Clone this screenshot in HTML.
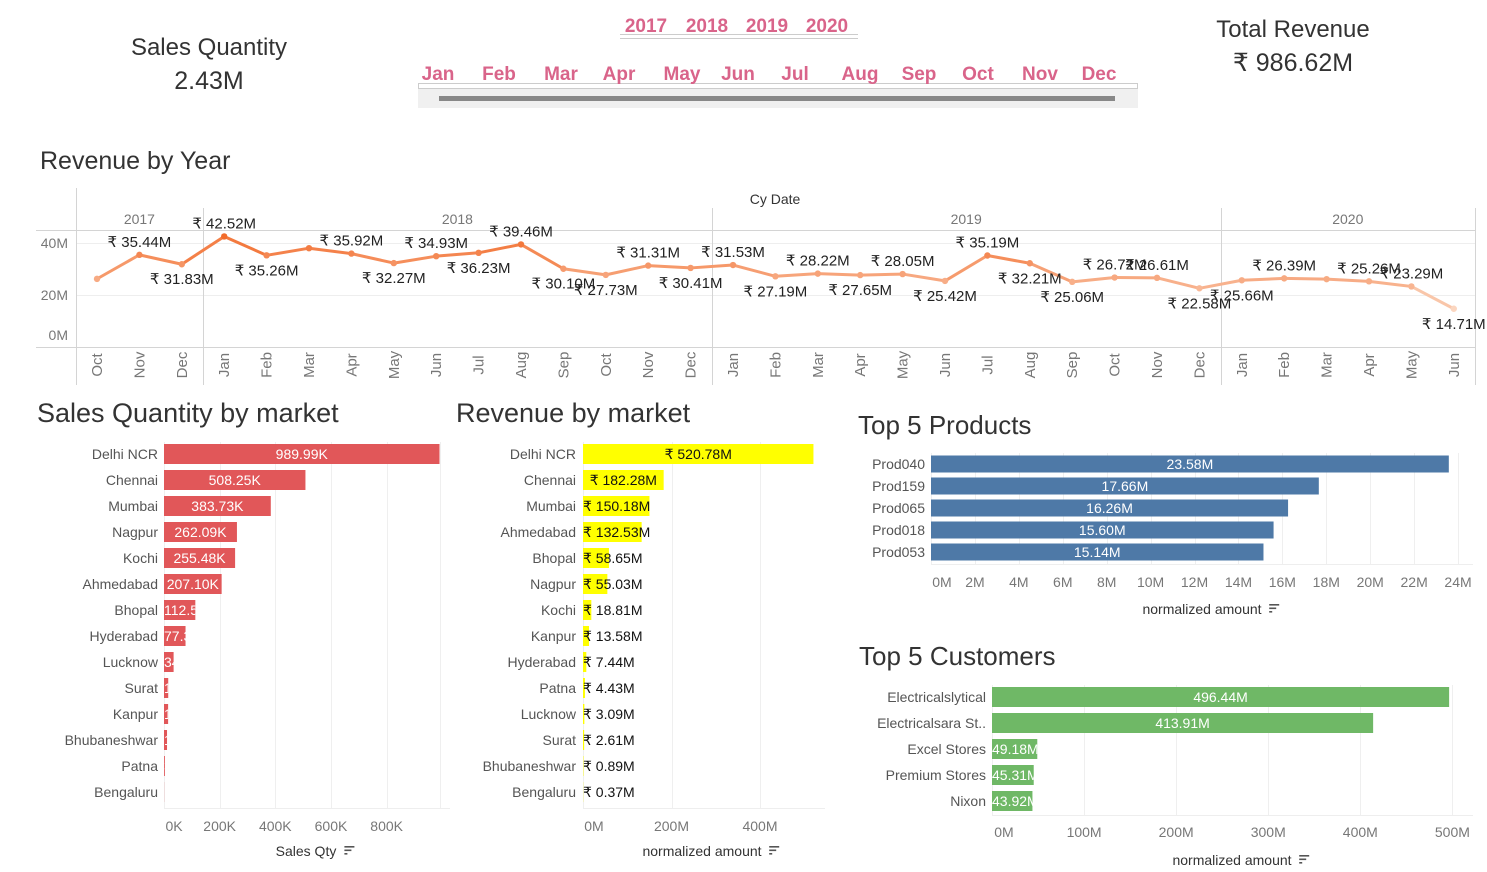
<!DOCTYPE html>
<html><head><meta charset="utf-8"><title>Sales Dashboard</title>
<style>
html,body{margin:0;padding:0;background:#fff;width:1487px;height:872px;overflow:hidden}
svg{display:block;font-family:"Liberation Sans",sans-serif}
.ttl{fill:#333;font-size:26px}
.tick{fill:#777;font-size:14px}
.cat{fill:#555;font-size:14px}
.pink{fill:#d9648a;font-size:19px;font-weight:bold}
</style></head>
<body>
<svg id="dash" width="1487" height="872" viewBox="0 0 1487 872" xmlns="http://www.w3.org/2000/svg">
  <g>
    <text x="209" y="55" text-anchor="middle" fill="#333" font-size="24">Sales Quantity</text>
    <text x="209" y="89" text-anchor="middle" fill="#333" font-size="25">2.43M</text>
  </g>
  <g>
    <text x="1293" y="37" text-anchor="middle" fill="#333" font-size="24">Total Revenue</text>
    <text x="1293" y="71" text-anchor="middle" fill="#333" font-size="25">₹ 986.62M</text>
  </g>
  <g>
    <text class="pink" x="646" y="32" text-anchor="middle">2017</text>
    <text class="pink" x="707" y="32" text-anchor="middle">2018</text>
    <text class="pink" x="767" y="32" text-anchor="middle">2019</text>
    <text class="pink" x="827" y="32" text-anchor="middle">2020</text>
    <line x1="620" y1="34.5" x2="858" y2="34.5" stroke="#ccc"/>
    <line x1="620" y1="38.5" x2="858" y2="38.5" stroke="#ccc"/>
  </g>
  <g id="monthfilter">
    <rect x="418.5" y="83.5" width="719" height="5" fill="#fff" stroke="#ccc"/>
    <rect x="418" y="89" width="720" height="19" fill="#f0f0f0"/>
    <rect x="439" y="96" width="676" height="5" fill="#888"/>
  </g>
  <text class="ttl" x="40" y="169" font-size="25" style="font-size:25px">Revenue by Year</text>
  <g id="linechart"></g>
  <text class="ttl" x="37" y="422" style="font-size:27px">Sales Quantity by market</text>
  <g id="qtychart"></g>
  <text class="ttl" x="456" y="422" style="font-size:27px">Revenue by market</text>
  <g id="revchart"></g>
  <text class="ttl" x="858" y="434">Top 5 Products</text>
  <g id="prodchart"></g>
  <text class="ttl" x="859" y="665">Top 5 Customers</text>
  <g id="custchart"></g>
</svg>
<script>
// ---------- Data ----------
const filterMonths = ["Jan","Feb","Mar","Apr","May","Jun","Jul","Aug","Sep","Oct","Nov","Dec"];
const lineMonths = ["Oct","Nov","Dec","Jan","Feb","Mar","Apr","May","Jun","Jul","Aug","Sep","Oct","Nov","Dec","Jan","Feb","Mar","Apr","May","Jun","Jul","Aug","Sep","Oct","Nov","Dec","Jan","Feb","Mar","Apr","May","Jun"];
const lineYears = ["2017","2018","2019","2020"];
const yearMonthCounts = [3,12,12,6];
const revenueM = [26.2,35.44,31.83,42.52,35.26,38.0,35.92,32.27,34.93,36.23,39.46,30.10,27.73,31.31,30.41,31.53,27.19,28.22,27.65,28.05,25.42,35.19,32.21,25.06,26.72,26.61,22.58,25.66,26.39,26.1,25.26,23.29,14.71];
const labelSide = ["","a","b","a","b","","a","b","a","b","a","b","b","a","b","a","b","a","b","a","b","a","b","b","a","a","b","b","a","","a","a","b"];
const lineTicks = [0,20,40];

const qtyMarkets = ["Delhi NCR","Chennai","Mumbai","Nagpur","Kochi","Ahmedabad","Bhopal","Hyderabad","Lucknow","Surat","Kanpur","Bhubaneshwar","Patna","Bengaluru"];
const qtyValues = [989.99,508.25,383.73,262.09,255.48,207.10,112.55,77.38,34.52,15.2,14.8,10.9,3.1,0.4];
const qtyLabels = ["989.99K","508.25K","383.73K","262.09K","255.48K","207.10K","112.55K","77.38K","34.52K","15.20K","14.80K","10.90K","3.10K","0.40K"];
const qtyTicks = [0,200,400,600,800];

const revMarkets = ["Delhi NCR","Chennai","Mumbai","Ahmedabad","Bhopal","Nagpur","Kochi","Kanpur","Hyderabad","Patna","Lucknow","Surat","Bhubaneshwar","Bengaluru"];
const revValues = [520.78,182.28,150.18,132.53,58.65,55.03,18.81,13.58,7.44,4.43,3.09,2.61,0.89,0.37];
const revTicks = [0,200,400];

const prodNames = ["Prod040","Prod159","Prod065","Prod018","Prod053"];
const prodValues = [23.58,17.66,16.26,15.60,15.14];
const prodTicks = [0,2,4,6,8,10,12,14,16,18,20,22,24];

const custNames = ["Electricalslytical","Electricalsara St..","Excel Stores","Premium Stores","Nixon"];
const custValues = [496.44,413.91,49.18,45.31,43.92];
const custTicks = [0,100,200,300,400,500];

// ---------- helpers ----------
const NS = "http://www.w3.org/2000/svg";
function mk(parent, tag, attrs, txt){
  const el = document.createElementNS(NS, tag);
  for (const k in attrs) el.setAttribute(k, attrs[k]);
  if (txt !== undefined) el.textContent = txt;
  parent.appendChild(el);
  return el;
}

// month filter
const mf = document.getElementById("monthfilter");
const mfX = [438,499,561,619,682,738,795,860,919,978,1040,1099];
filterMonths.forEach((m,i)=>{
  const t = mk(mf,"text",{x:mfX[i],y:80,"text-anchor":"middle",class:"pink"},m);
  
  
});

// ---------- line chart ----------
(function(){
  const g = document.getElementById("linechart");
  const xStart = 97, step = 42.4;
  const yBase = 347, pxPerM = 2.6;
  const x = i => xStart + i*step;
  const y = v => yBase - v*pxPerM;
  let e;
  e = mk(g,"text",{x:775,y:204,"text-anchor":"middle",fill:"#333","font-size":14},"Cy Date");
  
  
  e = mk(g,"line",{x1:36,y1:230.5,x2:1475,y2:230.5,stroke:"#d4d4d4"});
  
  
  lineTicks.forEach(t=>{
    if (t>0){
      const gl = mk(g,"line",{x1:76,y1:y(t)+.5,x2:1475,y2:y(t)+.5,stroke:"#eee"});
      
      
    }
    const tl = mk(g,"text",{x:68,y:t===0?y(t)-7:y(t)+5,"text-anchor":"end",class:"tick"},t+"M");
    
    
  });
  e = mk(g,"line",{x1:36,y1:yBase+.5,x2:1475,y2:yBase+.5,stroke:"#d4d4d4"});
  
  
  e = mk(g,"line",{x1:76.5,y1:188,x2:76.5,y2:385,stroke:"#d4d4d4"});
  
  
  let idx = 0;
  lineYears.forEach((yr,k)=>{
    const n = yearMonthCounts[k];
    const left = x(idx) - step/2, right = x(idx+n-1) + step/2;
    const yl = mk(g,"text",{x:(left+right)/2,y:224,"text-anchor":"middle",class:"tick"},yr);
    
    
    const dv = mk(g,"line",{x1:Math.round(right)+.5,y1:208,x2:Math.round(right)+.5,y2:385,stroke:"#d4d4d4"});
    
    
    idx += n;
  });
  lineMonths.forEach((m,i)=>{
    const ml = mk(g,"text",{transform:`translate(${x(i)+5},${yBase+18}) rotate(-90)`,"text-anchor":"middle",class:"tick","font-size":15,style:"font-size:15px"},m);
    
    
  });
  const lo=[251,217,196], hi=[242,108,44];
  function col(v){
    const t = Math.max(0,Math.min(1,(v-14)/(42.5-14)));
    return `rgb(${lo.map((c,j)=>Math.round(c+(hi[j]-c)*t)).join(",")})`;
  }
  for (let i=0;i<revenueM.length-1;i++){
    const s = mk(g,"line",{x1:x(i),y1:y(revenueM[i]),x2:x(i+1),y2:y(revenueM[i+1]),stroke:col((revenueM[i]+revenueM[i+1])/2),"stroke-width":3,"stroke-linecap":"round"});
    
    
  }
  revenueM.forEach((v,i)=>{
    const p = mk(g,"circle",{cx:x(i),cy:y(v),r:3.2,fill:col(v)});
    
    
    if (labelSide[i]){
      const ly = labelSide[i]==="a" ? y(v)-8 : y(v)+20;
      const lb = mk(g,"text",{x:x(i),y:ly,"text-anchor":"middle",fill:"#222","font-size":15},"₹ "+v.toFixed(2)+"M");
      
      
    }
  });
})();

// ---------- horizontal bar chart ----------
function hbar(cfg){
  const g = document.getElementById(cfg.id);
  const sx = v => cfg.x0 + v*cfg.k;
  const rowY = i => cfg.y0 + i*cfg.step;
  cfg.ticks.forEach((t,i)=>{
    const gl = mk(g,"line",{x1:Math.round(sx(t))+.5,y1:cfg.gridTop,x2:Math.round(sx(t))+.5,y2:cfg.axisY,stroke:"#efefef"});
    
    
    const tx = (i===0 && cfg.firstShift) ? sx(t)+cfg.firstShift : sx(t);
    const tl = mk(g,"text",{x:tx,y:cfg.axisY+cfg.tickOff,"text-anchor":"middle",class:"tick"},t+cfg.unit);
    
    
  });
  if (cfg.extraGrid){
    const gl = mk(g,"line",{x1:cfg.extraGrid+.5,y1:cfg.gridTop,x2:cfg.extraGrid+.5,y2:cfg.axisY,stroke:"#efefef"});
    
    
  }
  let e = mk(g,"line",{x1:cfg.x0,y1:cfg.axisY+.5,x2:cfg.axisEnd,y2:cfg.axisY+.5,stroke:"#eee"});
  
  
  cfg.names.forEach((n,i)=>{
    const cy = rowY(i);
    const cl = mk(g,"text",{x:cfg.labelX,y:cy+5,"text-anchor":"end",class:"cat"},n);
    
    
    const w = Math.max(0, sx(cfg.values[i]) - cfg.x0);
    const b = mk(g,"rect",{x:cfg.x0,y:cy-cfg.barH/2,width:w,height:cfg.barH,fill:cfg.color});
    
    
    const txt = cfg.labels[i];
    const est = txt.length*7.6;
    const tx = est < w ? cfg.x0 + w/2 : cfg.x0 + (cfg.pad||0);
    const anchor = est < w ? "middle" : "start";
    const attrs = {x:tx,y:cy+5,"text-anchor":anchor,fill:cfg.textColor,"font-size":14};
    if (cfg.clip){
      const cid = cfg.id+"clip"+i;
      const cp = mk(g,"clipPath",{id:cid});
      mk(cp,"rect",{x:cfg.x0,y:cy-cfg.barH/2,width:w,height:cfg.barH});
      attrs["clip-path"] = `url(#${cid})`;
    }
    const lb = mk(g,"text",attrs,txt);
    
    
  });
  const at = mk(g,"text",{x:cfg.titleX,y:cfg.titleY,"text-anchor":"middle",fill:"#333","font-size":14},cfg.title);
  
  
  const si = mk(g,"g",{transform:`translate(${cfg.titleX+cfg.title.length*3.6+6},${cfg.titleY-10})`});
  
  
  mk(si,"rect",{x:0,y:0,width:10,height:1.6,fill:"#555"});
  mk(si,"rect",{x:0,y:3.5,width:7,height:1.6,fill:"#555"});
  mk(si,"rect",{x:0,y:7,width:3,height:1.6,fill:"#555"});
}

hbar({id:"qtychart",names:qtyMarkets,values:qtyValues,labels:qtyLabels,ticks:qtyTicks,unit:"K",
  x0:164,k:0.2783,y0:454,step:26,barH:20,labelX:158,color:"#e15759",textColor:"#fff",clip:true,
  gridTop:442,axisY:808,axisEnd:450,firstShift:10,extraGrid:440,tickOff:23,title:"Sales Qty",titleX:306,titleY:856});
hbar({id:"revchart",names:revMarkets,values:revValues,labels:revValues.map(v=>"₹ "+v.toFixed(2)+"M"),ticks:revTicks,unit:"M",
  x0:583,k:0.4425,y0:454,step:26,barH:20,labelX:576,color:"#ffff00",textColor:"#111",clip:false,
  gridTop:442,axisY:808,axisEnd:825,firstShift:11,tickOff:23,title:"normalized amount",titleX:702,titleY:856});
hbar({id:"prodchart",names:prodNames,values:prodValues,labels:prodValues.map(v=>v.toFixed(2)+"M"),ticks:prodTicks,unit:"M",
  x0:931,k:21.96,y0:464,step:22,barH:17,labelX:925,color:"#4e79a7",textColor:"#fff",clip:true,
  gridTop:453,axisY:564,axisEnd:1473,firstShift:11,tickOff:23,title:"normalized amount",titleX:1202,titleY:614});
hbar({id:"custchart",names:custNames,values:custValues,labels:custValues.map(v=>v.toFixed(2)+"M"),ticks:custTicks,unit:"M",
  x0:992,k:0.9208,y0:697,step:26,barH:20,labelX:986,color:"#6fb866",textColor:"#fff",clip:true,
  gridTop:685,axisY:815,axisEnd:1473,firstShift:12,tickOff:22,title:"normalized amount",titleX:1232,titleY:865});
</script>
</body></html>
